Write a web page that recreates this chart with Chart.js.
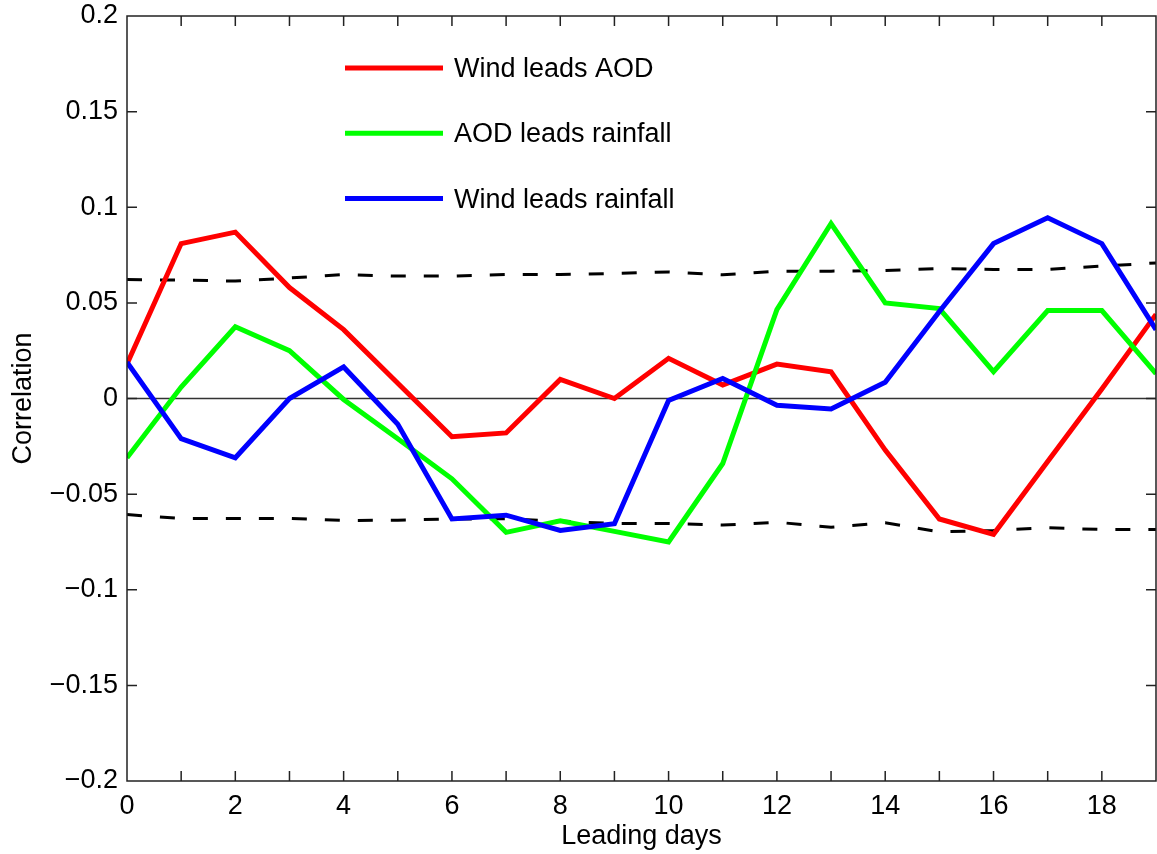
<!DOCTYPE html>
<html>
<head>
<meta charset="utf-8">
<script src="https://cdn.jsdelivr.net/npm/chart.js@4.4.0/dist/chart.umd.min.js"></script>
<style>
  html, body { margin: 0; padding: 0; background: #ffffff; overflow: hidden; }
</style>
</head>
<body>
<canvas id="lagChart" width="1157" height="854"></canvas>
<script>
// Lag correlation between wind, AOD and rainfall as a function of leading days
const leadingDays = [0, 1, 2, 3, 4, 5, 6, 7, 8, 9, 10, 11, 12, 13, 14, 15, 16, 17, 18, 19];

const windLeadsAod = [0.018, 0.081, 0.087, 0.058, 0.036, 0.008, -0.020, -0.018, 0.010, 0.000,
                      0.021, 0.007, 0.018, 0.014, -0.027, -0.063, -0.071, -0.033, 0.005, 0.044];

const aodLeadsRainfall = [-0.031, 0.006, 0.0375, 0.025, -0.0005, -0.021, -0.042, -0.070, -0.064, -0.0695,
                          -0.075, -0.034, 0.0465, 0.0915, 0.050, 0.047, 0.014, 0.046, 0.046, 0.013];

const windLeadsRainfall = [0.019, -0.021, -0.031, 0.000, 0.0165, -0.0135, -0.063, -0.061, -0.069, -0.0655,
                           -0.001, 0.0105, -0.0035, -0.0055, 0.0085, 0.0455, 0.081, 0.0945, 0.081, 0.036];

// 95% significance bounds
const upperBound = [0.0622, 0.0619, 0.0614, 0.063, 0.0648, 0.064, 0.064, 0.0648, 0.0648, 0.0654,
                    0.0662, 0.0647, 0.0666, 0.0666, 0.0669, 0.068, 0.0675, 0.0675, 0.0692, 0.0709];
const lowerBound = [-0.0607, -0.0627, -0.0627, -0.0627, -0.0638, -0.0636, -0.063, -0.0629, -0.0641, -0.0654,
                    -0.0654, -0.0662, -0.0647, -0.0673, -0.065, -0.0697, -0.069, -0.0676, -0.0685, -0.0685];

const zeroLine = leadingDays.map(() => 0);

const seriesLabels = ['Wind leads AOD', 'AOD leads rainfall', 'Wind leads rainfall'];
const seriesColors = ['#ff0000', '#00ff00', '#0000ff'];

const FONT = 'Liberation Sans, Arial, Helvetica, sans-serif';
const toPoints = vals => leadingDays.map((d, i) => ({ x: d, y: vals[i] }));

// Box frame with inward tick marks on all four sides
const frameTicks = {
  id: 'frameTicks',
  afterDatasetsDraw(chart, args, opts) {
    const { ctx, chartArea: a, scales: { x, y } } = chart;
    const L = opts.length;
    ctx.save();
    ctx.strokeStyle = opts.color;
    ctx.lineWidth = opts.width;
    ctx.beginPath();
    x.ticks.forEach(t => {
      const px = x.getPixelForValue(t.value);
      ctx.moveTo(px, a.bottom); ctx.lineTo(px, a.bottom - L);
      ctx.moveTo(px, a.top); ctx.lineTo(px, a.top + L);
    });
    y.ticks.forEach(t => {
      const py = y.getPixelForValue(t.value);
      ctx.moveTo(a.left, py); ctx.lineTo(a.left + L, py);
      ctx.moveTo(a.right, py); ctx.lineTo(a.right - L, py);
    });
    ctx.rect(a.left, a.top, a.right - a.left, a.bottom - a.top);
    ctx.stroke();
    ctx.restore();
  }
};

// Line legend placed inside the plot area
const innerLegend = {
  id: 'innerLegend',
  afterDraw(chart, args, opts) {
    const { ctx } = chart;
    ctx.save();
    ctx.font = opts.fontSize + 'px ' + FONT;
    ctx.textBaseline = 'alphabetic';
    ctx.textAlign = 'left';
    opts.items.forEach((item, i) => {
      const yy = opts.top + i * opts.rowGap;
      ctx.strokeStyle = item.color;
      ctx.lineWidth = opts.lineWidth;
      ctx.lineCap = 'butt';
      ctx.beginPath();
      ctx.moveTo(opts.lineStart, yy);
      ctx.lineTo(opts.lineEnd, yy);
      ctx.stroke();
      ctx.fillStyle = '#000000';
      ctx.fillText(item.label, opts.textStart, yy + opts.baselineShift);
    });
    ctx.restore();
  }
};

const formatTick = v => {
  const n = Number(v.toFixed(2));
  return String(n).replace('-', '\u2212');
};

new Chart(document.getElementById('lagChart'), {
  type: 'line',
  data: {
    datasets: [
      { label: seriesLabels[2], data: toPoints(windLeadsRainfall), borderColor: seriesColors[2], borderWidth: 5, order: 1 },
      { label: seriesLabels[1], data: toPoints(aodLeadsRainfall), borderColor: seriesColors[1], borderWidth: 5, order: 2 },
      { label: seriesLabels[0], data: toPoints(windLeadsAod), borderColor: seriesColors[0], borderWidth: 5, order: 3 },
      { label: 'upper', data: toPoints(upperBound), borderColor: '#000000', borderWidth: 3, borderDash: [15, 18], order: 4 },
      { label: 'lower', data: toPoints(lowerBound), borderColor: '#000000', borderWidth: 3, borderDash: [15, 18], order: 5 },
      { label: 'zero', data: toPoints(zeroLine), borderColor: '#333333', borderWidth: 1.5, order: 6 }
    ]
  },
  options: {
    responsive: false,
    devicePixelRatio: 1,
    animation: false,
    events: [],
    elements: {
      point: { radius: 0 },
      line: { tension: 0, fill: false, borderCapStyle: 'butt', borderJoinStyle: 'miter' }
    },
    layout: { padding: { top: 16, right: 1, left: 0, bottom: 0 } },
    plugins: {
      legend: { display: false },
      tooltip: { enabled: false },
      frameTicks: { length: 10, width: 1.5, color: '#222222' },
      innerLegend: {
        items: seriesLabels.map((l, i) => ({ label: l, color: seriesColors[i] })),
        top: 68, rowGap: 65.3, lineStart: 345, lineEnd: 443, textStart: 454,
        lineWidth: 5, fontSize: 27, baselineShift: 9
      }
    },
    scales: {
      x: {
        type: 'linear',
        min: 0, max: 19,
        grid: { display: false, drawTicks: false },
        border: { display: false },
        ticks: {
          stepSize: 1, autoSkip: false, maxRotation: 0, padding: 12,
          color: '#000000',
          font: { family: FONT, size: 27, lineHeight: 1 },
          callback: v => (v % 2 === 0 ? String(v) : '')
        },
        title: {
          display: true, text: 'Leading days', color: '#000000',
          font: { family: FONT, size: 27, lineHeight: 1 },
          padding: { top: 0, bottom: 4 }
        },
        afterFit: s => { s.height = 73; s.paddingLeft = 0; s.paddingRight = 0; }
      },
      y: {
        min: -0.2, max: 0.2,
        grid: { display: false, drawTicks: false },
        border: { display: false },
        ticks: {
          stepSize: 0.05, padding: 9, color: '#000000',
          font: { family: FONT, size: 27, lineHeight: 1 },
          callback: v => formatTick(v)
        },
        title: {
          display: true, text: 'Correlation', color: '#000000',
          font: { family: FONT, size: 27, lineHeight: 1 },
          padding: { top: 10, bottom: 0 }
        },
        afterFit: s => { s.width = 127; s.paddingTop = 0; s.paddingBottom = 0; }
      }
    }
  },
  plugins: [frameTicks, innerLegend]
});
</script>
</body>
</html>
